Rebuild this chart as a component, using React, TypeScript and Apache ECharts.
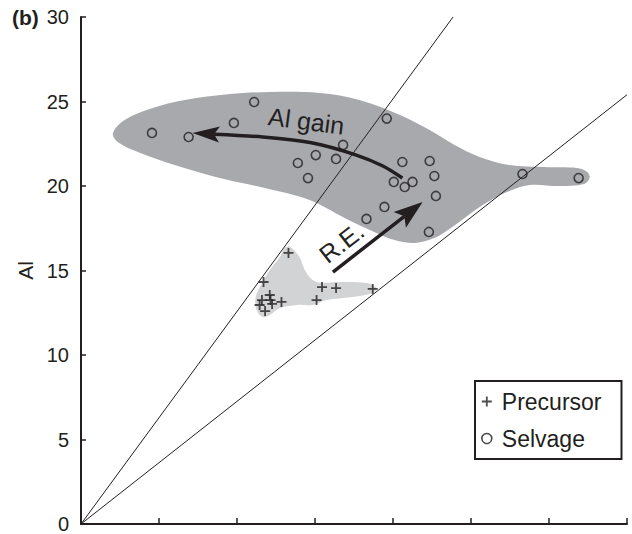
import React, { useEffect, useRef } from 'react';
import * as echarts from 'echarts';

// ---------- data ----------
const X_MAX = 7;
const Y_MAX = 30;
const Y_INTERVAL = 5;

const PRECURSOR: number[][] = [
  [2.66, 16.04], [2.34, 14.32], [3.09, 14.02], [3.27, 13.96], [3.74, 13.91],
  [3.02, 13.25], [2.42, 13.55], [2.32, 13.25], [2.43, 13.25], [2.57, 13.14],
  [2.29, 12.96], [2.36, 12.6], [2.45, 13.02],
];

const SELVAGE: number[][] = [
  [0.91, 23.14], [1.38, 22.9], [1.96, 23.73], [2.22, 24.97], [2.78, 21.36],
  [3.01, 21.83], [2.91, 20.47], [3.27, 21.6], [3.36, 22.43], [3.92, 23.99],
  [4.12, 21.42], [4.01, 20.24], [4.15, 19.94], [4.25, 20.24], [3.89, 18.76],
  [3.66, 18.05], [4.47, 21.48], [4.53, 20.59], [4.55, 19.41], [4.46, 17.28],
  [5.66, 20.71], [6.38, 20.47],
];

const LINE_STEEP: number[][] = [[0, 0], [4.77, 30]];
const LINE_SHALLOW: number[][] = [[0, 0], [7, 25.4]];

const SELVAGE_FIELD: number[][] = [
  [0.41, 23.14], [0.56, 23.91], [0.88, 24.56], [1.33, 25.09], [1.91, 25.44],
  [2.42, 25.56], [3.06, 25.5], [3.57, 25.09], [4.09, 24.2], [4.47, 23.31],
  [4.79, 22.43], [5.11, 21.72], [5.49, 21.24], [5.94, 21.12], [6.36, 21.07],
  [6.49, 20.83], [6.52, 20.47], [6.45, 20.12], [6.13, 20.0], [5.75, 20.06],
  [5.46, 19.64], [5.11, 18.76], [4.76, 17.57], [4.53, 16.92], [4.28, 16.63],
  [4.02, 16.8], [3.76, 17.28], [3.38, 18.11], [2.93, 19.17], [2.36, 19.88],
  [1.78, 20.47], [1.2, 21.24], [0.76, 21.95], [0.47, 22.6],
];

const PRECURSOR_FIELD: number[][] = [
  [2.68, 16.39], [2.8, 15.8], [2.89, 14.85], [3.02, 14.32], [3.28, 14.32],
  [3.66, 14.26], [3.79, 13.96], [3.74, 13.67], [3.48, 13.43], [3.15, 13.25],
  [2.97, 12.96], [2.77, 12.96], [2.55, 12.78], [2.42, 12.37], [2.33, 12.25],
  [2.25, 12.66], [2.24, 13.43], [2.32, 14.26], [2.42, 15.03], [2.55, 15.8],
  [2.61, 16.33],
];

const AL_GAIN_ARROW: number[][] = [
  [4.12, 20.47], [3.87, 21.18], [3.53, 21.83], [2.97, 22.54], [2.33, 22.9], [1.43, 23.14],
];
const RE_ARROW: number[][] = [[3.23, 14.91], [4.38, 19.05]];

const AL_GAIN_LABEL: number[] = [2.89, 23.85];
const RE_LABEL: number[] = [3.34, 16.66];

// ---------- styles ----------
const INK = '#231f20';
const FONT = '"Liberation Sans", Arial, Helvetica, sans-serif';

const fieldSeries = (pts: number[][], fill: string, z: number) => ({
  type: 'custom',
  data: [[0, 0]],
  silent: true,
  z,
  renderItem: (_p: any, api: any) => ({
    type: 'polygon',
    shape: { points: pts.map((p) => api.coord(p)), smooth: 0.35 },
    style: { fill },
  }),
});

const arrowSeries = (pts: number[][], width: number, headLen: number, headHalf: number, smooth: number) => ({
  type: 'custom',
  data: [[0, 0]],
  silent: true,
  z: 6,
  renderItem: (_p: any, api: any) => {
    const px = pts.map((p) => api.coord(p));
    const tip = px[px.length - 1];
    const prev = px[px.length - 2];
    let dx = tip[0] - prev[0];
    let dy = tip[1] - prev[1];
    const len = Math.hypot(dx, dy);
    dx /= len;
    dy /= len;
    const bx = tip[0] - dx * headLen;
    const by = tip[1] - dy * headLen;
    const nx = -dy;
    const ny = dx;
    const notch = [tip[0] - dx * headLen * 0.8, tip[1] - dy * headLen * 0.8];
    const shaft = px.slice(0, -1).concat([notch]);
    return {
      type: 'group',
      children: [
        {
          type: 'polyline',
          shape: { points: shaft, smooth },
          style: { stroke: INK, lineWidth: width, fill: null },
        },
        {
          type: 'polygon',
          shape: {
            points: [tip, [bx + nx * headHalf, by + ny * headHalf], notch, [bx - nx * headHalf, by - ny * headHalf]],
          },
          style: { fill: INK },
        },
      ],
    };
  },
});

const labelSeries = (pos: number[], text: string, rotation: number, fontSize: number) => ({
  type: 'custom',
  data: [[0, 0]],
  silent: true,
  z: 7,
  renderItem: (_p: any, api: any) => {
    const c = api.coord(pos);
    return {
      type: 'text',
      x: c[0],
      y: c[1],
      rotation,
      style: {
        text,
        fontSize,
        fontFamily: FONT,
        fill: INK,
        align: 'center',
        verticalAlign: 'middle',
      },
    };
  },
});

const PLUS = 'path://M4.1,0H5.9V4.1H10V5.9H5.9V10H4.1V5.9H0V4.1H4.1Z';

export default function App() {
  const ref = useRef<HTMLDivElement>(null);

  useEffect(() => {
    if (!ref.current) return;
    const chart = echarts.init(ref.current, undefined, { renderer: 'svg' });
    chart.setOption({
      animation: false,
      backgroundColor: '#ffffff',
      grid: { left: 81, right: 5, top: 17, bottom: 10, containLabel: false, outerBoundsMode: 'none' },
      graphic: [
        {
          type: 'text',
          left: 12,
          top: 7,
          style: { text: '(b)', fontSize: 21, fontWeight: 'bold', fontFamily: FONT, fill: INK },
        },
      ],
      legend: {
        data: [
          { name: 'Precursor', itemStyle: { color: INK } },
          { name: 'Selvage', itemStyle: { color: 'rgba(0,0,0,0)', borderColor: INK, borderWidth: 1.6 } },
        ],
        orient: 'vertical',
        left: 475,
        top: 381,
        padding: [9, 20, 9, 6],
        itemWidth: 20,
        itemHeight: 10,
        itemGap: 14,
        borderColor: INK,
        borderWidth: 2,
        backgroundColor: '#ffffff',
        textStyle: { fontSize: 23, color: INK, fontFamily: FONT },
      },
      xAxis: {
        type: 'value',
        min: 0,
        max: X_MAX,
        interval: 1,
        axisLine: { show: true, onZero: false, lineStyle: { color: INK, width: 2 } },
        axisTick: { show: true, inside: true, length: 6, lineStyle: { color: INK, width: 1.5 } },
        axisLabel: { show: false },
        splitLine: { show: false },
      },
      yAxis: {
        type: 'value',
        min: 0,
        max: Y_MAX,
        interval: Y_INTERVAL,
        name: 'Al',
        nameLocation: 'middle',
        nameGap: 40,
        nameTextStyle: { fontSize: 21, color: INK, fontFamily: FONT },
        axisLine: { show: true, onZero: false, lineStyle: { color: INK, width: 2 } },
        axisTick: { show: true, inside: true, length: 5, lineStyle: { color: INK, width: 1.5 } },
        axisLabel: { fontSize: 20, color: INK, fontFamily: FONT, margin: 12 },
        splitLine: { show: false },
      },
      series: [
        fieldSeries(SELVAGE_FIELD, '#a8a9ad', 1),
        fieldSeries(PRECURSOR_FIELD, '#d2d3d5', 1),
        {
          type: 'line',
          data: LINE_STEEP,
          symbol: 'none',
          silent: true,
          z: 3,
          lineStyle: { color: INK, width: 1 },
        },
        {
          type: 'line',
          data: LINE_SHALLOW,
          symbol: 'none',
          silent: true,
          z: 3,
          lineStyle: { color: INK, width: 1 },
        },
        {
          name: 'Precursor',
          type: 'scatter',
          data: PRECURSOR,
          symbol: PLUS,
          symbolSize: 10,
          z: 5,
          itemStyle: { color: INK },
        },
        {
          name: 'Selvage',
          type: 'scatter',
          data: SELVAGE,
          symbol: 'circle',
          symbolSize: 9,
          z: 5,
          itemStyle: { color: 'rgba(0,0,0,0)', borderColor: INK, borderWidth: 1.6 },
        },
        arrowSeries(AL_GAIN_ARROW, 3.5, 27, 8, 0.3),
        arrowSeries(RE_ARROW, 3.5, 29, 10, 0),
        labelSeries(AL_GAIN_LABEL, 'Al gain', -0.13, 25),
        labelSeries(RE_LABEL, 'R.E.', 0.66, 25),
      ],
    });
    return () => chart.dispose();
  }, []);

  return (
    <div
      ref={ref}
      style={{ position: 'fixed', left: 0, top: 0, width: 632, height: 534, background: '#fff' }}
    />
  );
}
